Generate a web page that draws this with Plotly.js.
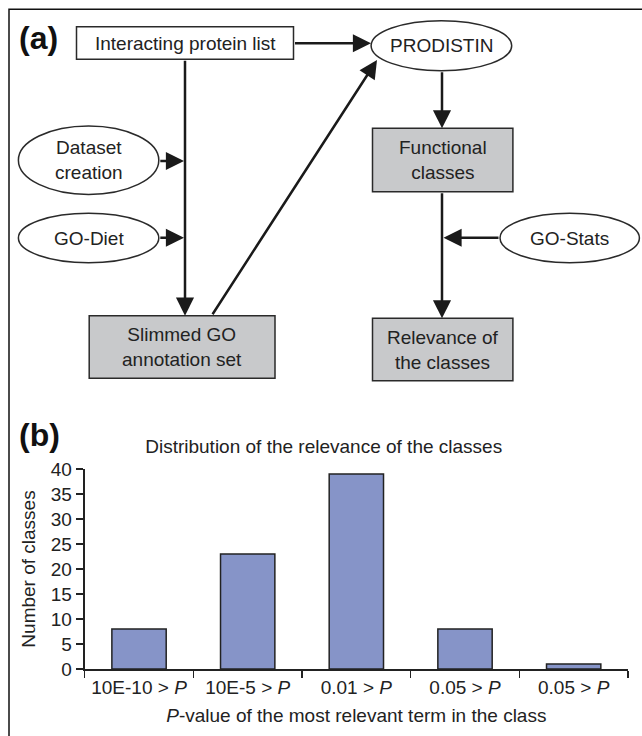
<!DOCTYPE html>
<html>
<head>
<meta charset="utf-8">
<script src="https://cdn.plot.ly/plotly-3.0.1.min.js"></script>
<style>html,body{margin:0;padding:0;background:#fff;}#chart{width:642px;height:736px;}</style>
</head>
<body>
<div id="chart"></div>
<script>
// ---------- data: panel (b) ----------
const categoryIds = [0, 1, 2, 3, 4];
const categoryLabels = ['10E-10 > <i>P</i>', '10E-5 > <i>P</i>', '0.01 > <i>P</i>', '0.05 > <i>P</i>', '0.05 > <i>P</i>'];
const classCounts = [8, 23, 39, 8, 1];
const yTickValues = [0, 5, 10, 15, 20, 25, 30, 35, 40];
const chartTitle = 'Distribution of the relevance of the classes';
const xTitle = '<i>P</i>-value of the most relevant term in the class';
const yTitle = 'Number of classes';

// ---------- data: panel (a) node labels ----------
const nodeLabels = ['Interacting protein list', 'PRODISTIN', 'Dataset<br>creation', 'GO-Diet',
  'Slimmed GO<br>annotation set', 'Functional<br>classes', 'GO-Stats', 'Relevance of<br>the classes'];
const panelLabels = ['(a)', '(b)'];

// ---------- layout geometry (pixel-like coordinates on a hidden axis) ----------
const W = 642, H = 736;
const FLOW = {
  nodes: [
    {kind: 'rect', x0: 76.5, x1: 293.5, y0: 26.7, y1: 59.3, fill: '#ffffff'},
    {kind: 'circle', cx: 441.4, cy: 45.7, rx: 70.3, ry: 25},
    {kind: 'circle', cx: 88.6, cy: 160.2, rx: 70.2, ry: 34.2},
    {kind: 'circle', cx: 88.6, cy: 238, rx: 70.2, ry: 24.7},
    {kind: 'rect', x0: 89.2, x1: 275, y0: 315.7, y1: 378.3, fill: '#c8c9cb'},
    {kind: 'rect', x0: 372.5, x1: 512.9, y0: 128.3, y1: 191.7, fill: '#c8c9cb'},
    {kind: 'circle', cx: 569.7, cy: 238, rx: 69.7, ry: 24.7},
    {kind: 'rect', x0: 372.5, x1: 512.9, y0: 318.3, y1: 380.7, fill: '#c8c9cb'}
  ],
  arrows: [
    {tx: 293.5, ty: 43.3, hx: 371, hy: 43.3},
    {tx: 442, ty: 70.7, hx: 442, hy: 128.3},
    {tx: 442, ty: 191.7, hx: 442, hy: 318.3},
    {tx: 500, ty: 237.7, hx: 443.5, hy: 237.7},
    {tx: 185, ty: 59.3, hx: 185, hy: 315.7},
    {tx: 158.8, ty: 161, hx: 184, hy: 161},
    {tx: 158.8, ty: 237.7, hx: 184, hy: 237.7},
    {tx: 211.6, ty: 315.7, hx: 377, hy: 60}
  ],
  panelPos: [{x: 38, y: 37.5}, {x: 39, y: 435}],
  frame: {x: 9, y: 9.3}
};

const TXT = '#222222';
const FONT = 'Arial, "Liberation Sans", Helvetica, sans-serif';

const shapes = [];
const annotations = [];

// frame (left and top edges)
shapes.push({type: 'path', xref: 'x2', yref: 'y2',
  path: `M ${FLOW.frame.x} ${H + 5} L ${FLOW.frame.x} ${FLOW.frame.y} L ${W + 5} ${FLOW.frame.y}`,
  line: {color: '#111', width: 1.5}});

FLOW.nodes.forEach((n, i) => {
  let cx, cy;
  if (n.kind === 'rect') {
    shapes.push({type: 'rect', xref: 'x2', yref: 'y2', x0: n.x0, x1: n.x1, y0: n.y0, y1: n.y1,
      fillcolor: n.fill, line: {color: '#2a2a2a', width: 1.5}, layer: 'above'});
    cx = (n.x0 + n.x1) / 2; cy = (n.y0 + n.y1) / 2;
  } else {
    shapes.push({type: 'circle', xref: 'x2', yref: 'y2', x0: n.cx - n.rx, x1: n.cx + n.rx,
      y0: n.cy - n.ry, y1: n.cy + n.ry, fillcolor: '#ffffff', line: {color: '#2a2a2a', width: 1.5}, layer: 'above'});
    cx = n.cx; cy = n.cy;
  }
  annotations.push({xref: 'x2', yref: 'y2', x: cx, y: cy, text: nodeLabels[i], showarrow: false,
    xanchor: 'center', yanchor: 'middle', font: {family: FONT, size: 19, color: TXT}});
});

FLOW.arrows.forEach(a => {
  annotations.push({xref: 'x2', yref: 'y2', axref: 'x2', ayref: 'y2', x: a.hx, y: a.hy, ax: a.tx, ay: a.ty,
    text: '', showarrow: true, arrowhead: 2, arrowsize: 1.45, arrowwidth: 2.5, arrowcolor: '#1a1a1a', standoff: 0});
});

panelLabels.forEach((t, i) => {
  annotations.push({xref: 'x2', yref: 'y2', x: FLOW.panelPos[i].x, y: FLOW.panelPos[i].y, text: '<b>' + t + '</b>',
    showarrow: false, xanchor: 'center', yanchor: 'middle', font: {family: FONT, size: 32, color: '#111'}});
});

const traces = [
  {type: 'bar', x: categoryIds, y: classCounts, width: 0.5, xaxis: 'x', yaxis: 'y',
    marker: {color: '#8694c8', line: {color: '#222222', width: 1.5}}, hoverinfo: 'y', showlegend: false},
  {type: 'scatter', x: [], y: [], xaxis: 'x2', yaxis: 'y2', hoverinfo: 'skip', showlegend: false}
];

const layout = {
  width: W, height: H,
  margin: {l: 0, r: 0, t: 0, b: 0},
  paper_bgcolor: '#ffffff', plot_bgcolor: 'rgba(0,0,0,0)',
  showlegend: false,
  font: {family: FONT, size: 19, color: TXT},
  title: {text: chartTitle, x: 323.7 / W, y: 1 - 446.7 / H, xanchor: 'center', yanchor: 'middle',
    xref: 'paper', yref: 'paper', font: {family: FONT, size: 19, color: TXT}},
  xaxis: {domain: [84.7 / W, 628 / W], type: 'category', range: [-0.5, 4.5],
    tickmode: 'array', tickvals: categoryIds, ticktext: categoryLabels, tickson: 'boundaries',
    ticks: 'outside', ticklen: 7, tickwidth: 1.5, tickcolor: '#222',
    showline: true, linecolor: '#222', linewidth: 2, showgrid: false, zeroline: false,
    tickfont: {family: FONT, size: 19, color: TXT}, anchor: 'y', fixedrange: true,
    title: {text: xTitle, standoff: 12, font: {family: FONT, size: 19, color: TXT}}},
  yaxis: {domain: [(H - 669) / H, (H - 469) / H], range: [0, 40], tickmode: 'array', tickvals: yTickValues,
    ticks: 'outside', ticklen: 7, tickwidth: 1.5, tickcolor: '#222',
    showline: true, linecolor: '#222', linewidth: 2, showgrid: false, zeroline: false,
    tickfont: {family: FONT, size: 19, color: TXT}, anchor: 'x', fixedrange: true,
    title: {text: yTitle, standoff: 10, font: {family: FONT, size: 19, color: TXT}}},
  xaxis2: {domain: [0, 1], range: [0, W], visible: false, fixedrange: true, anchor: 'y2'},
  yaxis2: {domain: [0, 1], range: [H, 0], visible: false, fixedrange: true, anchor: 'x2'},
  shapes: shapes,
  annotations: annotations
};

Plotly.newPlot('chart', traces, layout, {displayModeBar: false, staticPlot: true});
</script>
</body>
</html>
